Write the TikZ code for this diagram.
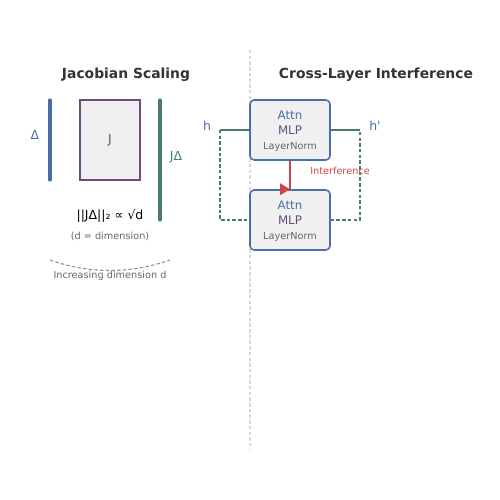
\documentclass[tikz,border=0pt]{standalone}
\usepackage{fontspec}
\setmainfont{DejaVu Sans}[Ligatures=TeXOff]
\usepackage{xcolor}
\usepackage{tikz}
\usetikzlibrary{positioning,arrows.meta}

\definecolor{jblue}{HTML}{4A6FA5}
\definecolor{jgreen}{HTML}{4A7D6A}
\definecolor{jpurple}{HTML}{6B4C7E}
\definecolor{jred}{HTML}{D04545}
\definecolor{boxgray}{HTML}{F0F0F0}
\definecolor{titlegray}{HTML}{333333}
\definecolor{notegray}{HTML}{666666}
\definecolor{divgray}{HTML}{D9D9D9}

\begin{document}
\begin{tikzpicture}[x=0.72pt, y=-0.72pt, every node/.style={inner sep=0pt},
		title/.style={font=\bfseries\fontsize{10}{12}\selectfont, text=titlegray},
		lbl/.style={font=\fontsize{9}{11}\selectfont},
		note/.style={font=\fontsize{7}{9}\selectfont, text=notegray},
		vec/.style={line width=2.2pt, line cap=round},
		jbox/.style={draw=jpurple, line width=1.1pt, fill=boxgray, minimum width=43.2pt, minimum height=57.6pt, text=jpurple, font=\fontsize{9}{11}\selectfont},
		layer/.style={draw=jblue, line width=1.1pt, fill=boxgray, rounded corners=3pt, minimum width=57.6pt, minimum height=43.2pt, align=center, font=\fontsize{8.5}{10.8}\selectfont},
		res/.style={draw=jgreen, line width=1.1pt},
		skip/.style={res, dash pattern=on 2.5pt off 1.6pt}]
		\useasboundingbox (0,0) rectangle (500,500);

		% divider
		\draw[divgray, line width=0.8pt, dash pattern=on 2.5pt off 1.6pt] (250,50) -- (250,450);

		% left: Jacobian scaling
		\node[title] (ttlJ) at (126,75) {Jacobian Scaling};
		\draw[vec, jblue] (50,100) -- (50,180);
		\node[lbl, text=jblue] (delta) at (35,135) {Δ};
		\node[jbox] (J) at (110,140) {J};
		\draw[vec, jgreen] (160,100) -- (160,220);
		\node[lbl, text=jgreen] (Jdelta) at (176,157) {JΔ};
		\node[lbl, text=black] (norm) at (110,216) {||JΔ||₂ ∝ √d};
		\node[note] (dnote) at (110,236) {(d = dimension)};
		\draw[notegray!70, line width=0.8pt, dash pattern=on 2.5pt off 1.6pt] (50,260) .. controls (90,274) and (130,274) .. (170,260);
		\node[note] (incr) at (110,276) {Increasing dimension d};

		% right: cross-layer interference
		\node[title] (ttlC) at (376,75) {Cross-Layer Interference};
		\node[layer] (L1) at (290,130) {\rule{0pt}{8.6pt}\textcolor{jblue}{Attn}\\\textcolor{jpurple}{MLP}\\{\fontsize{7}{10.8}\selectfont\color{notegray}LayerNorm}};
		\node[layer] (L2) at (290,220) {\rule{0pt}{8.6pt}\textcolor{jblue}{Attn}\\\textcolor{jpurple}{MLP}\\{\fontsize{7}{10.8}\selectfont\color{notegray}LayerNorm}};
		\coordinate (hin) at (220,130);
		\coordinate (hout) at (360,130);
		\coordinate (skipL) at (220,220);
		\coordinate (skipR) at (360,220);
		\node[lbl, text=jblue] (h) at (207,126) {h};
		\node[lbl, text=jblue] (hp) at (375,126) {h'};

		\draw[res] (hin) -- (L1.west);
		\draw[res] (L1.east) -- (hout);
		\draw[skip] (hin) -- (skipL) -- (L2.west);
		\draw[skip] (L2.east) -- (skipR) -- (hout);

		\draw[jred, line width=1.3pt] (L1.south) -- (L2.north);
		\fill[jred] (L2.north) ++(-10,-6) -- ++(0,12) -- ++(10,-6) -- cycle;
		\node[note, text=jred] (intf) at (340,171) {Interference};
	\end{tikzpicture}
\end{document}
